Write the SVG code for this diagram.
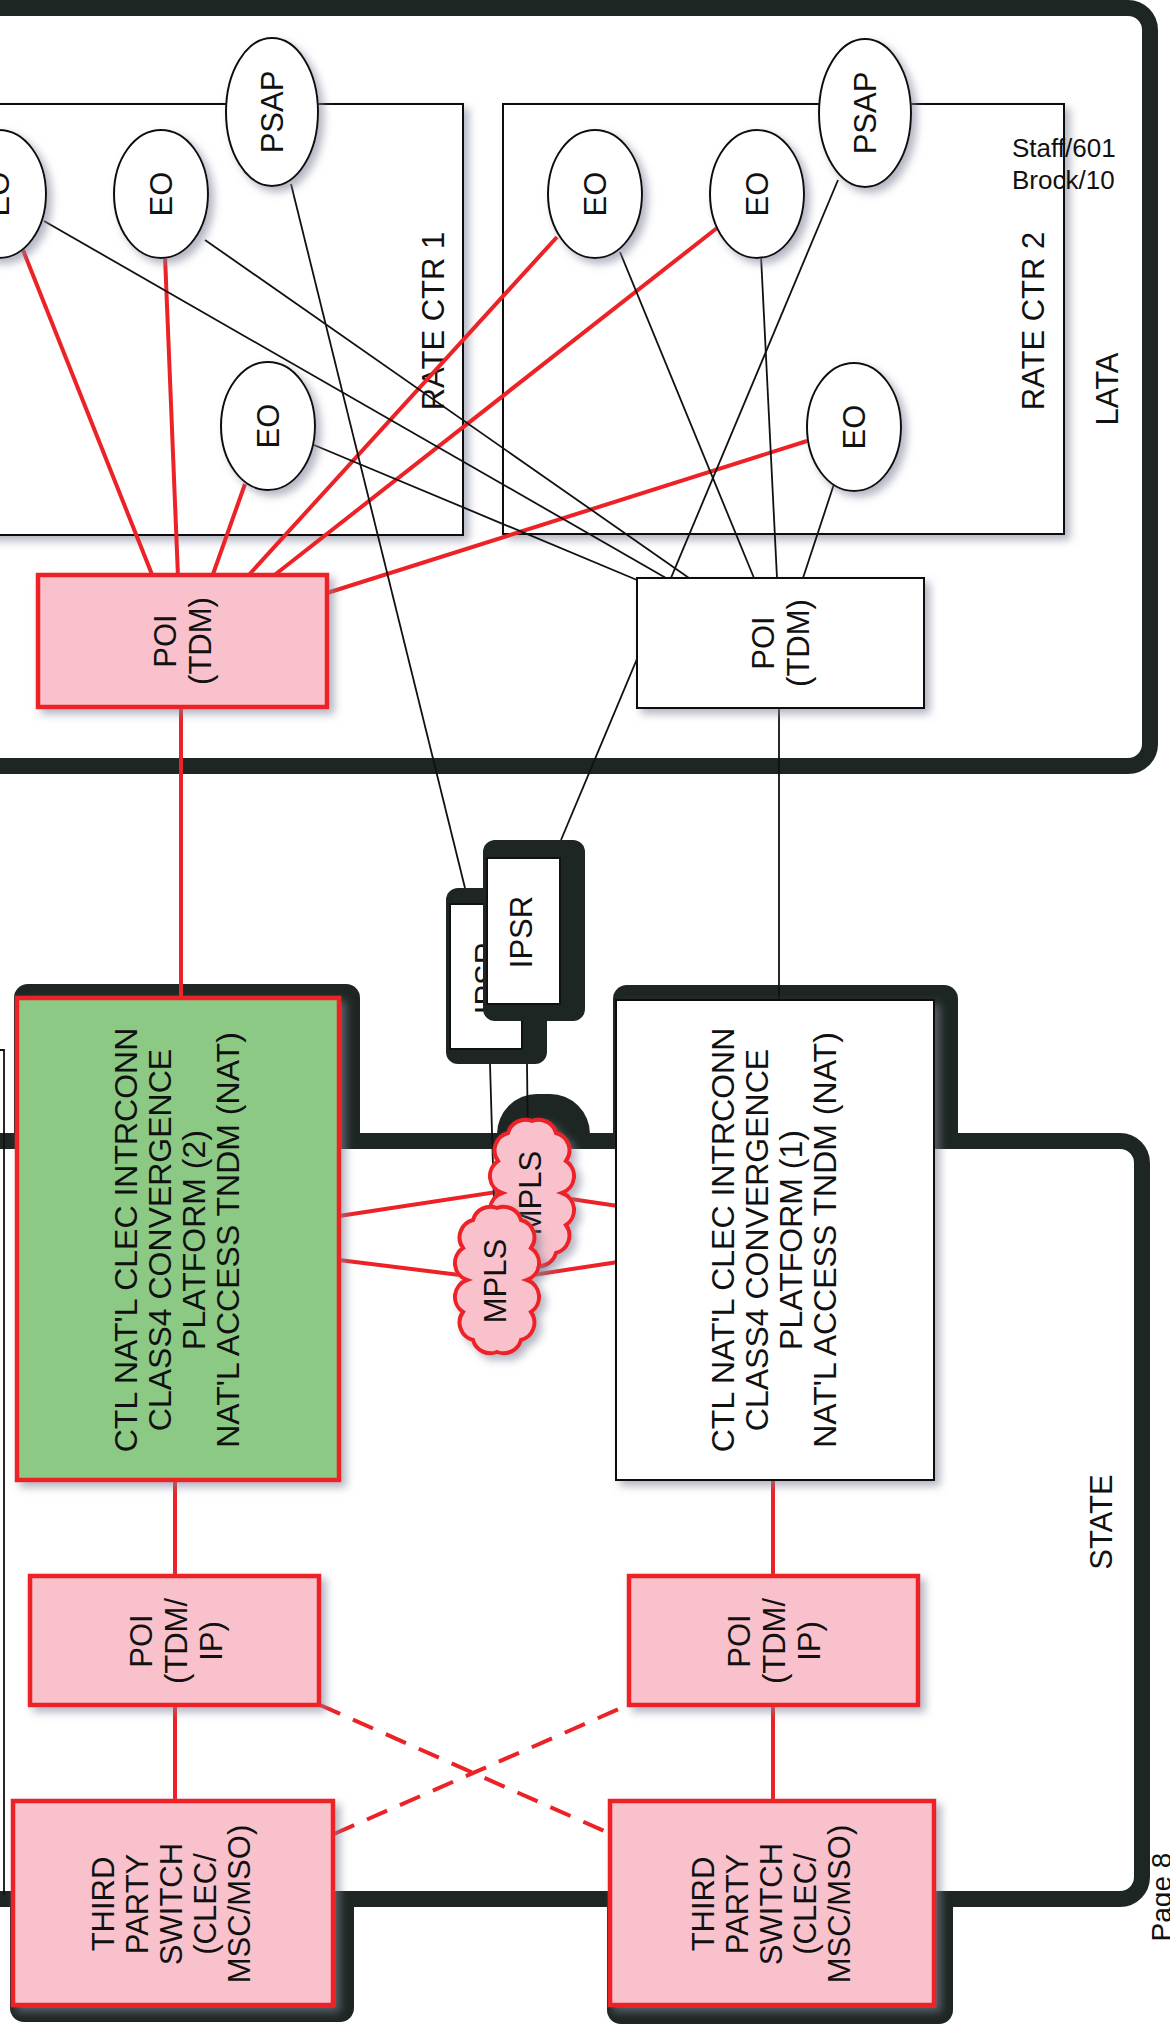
<svg xmlns="http://www.w3.org/2000/svg" width="1170" height="2028" viewBox="0 0 1170 2028">
<defs>
<style>
.t{font-family:"Liberation Sans",Arial,sans-serif;font-size:31px;fill:#111;text-anchor:middle}
.tb{font-size:32px}
.ts{font-family:"Liberation Sans",Arial,sans-serif;font-size:26px;fill:#111}
.frame{fill:#1d2622}
.bord{fill:none;stroke:#1d2622;stroke-width:16}
.rc{fill:#fff;stroke:#111;stroke-width:2}
.ell{fill:#fff;stroke:#111;stroke-width:2}
.pink{fill:#f8c1cc;stroke:#ec2227;stroke-width:4.5}
.green{fill:#8cc985;stroke:#ec2227;stroke-width:4.5}
.white{fill:#fff;stroke:#111;stroke-width:2}
.cloud{fill:#f8c1cc;stroke:#ec2227;stroke-width:4}
.r{fill:none;stroke:#ec2227;stroke-width:4}
.rd{fill:none;stroke:#ec2227;stroke-width:4;stroke-dasharray:22 14}
.k{fill:none;stroke:#111;stroke-width:1.8}
</style>
<filter id="sh" x="-20%" y="-20%" width="150%" height="150%">
<feDropShadow dx="5" dy="5" stdDeviation="4" flood-color="#80849a" flood-opacity="0.6"/>
</filter>
<path id="cloud" d="M 0 -72 A 18 18 0 0 1 24 -60 A 18 18 0 0 1 34 -32 A 18 18 0 0 1 30 0 A 18 18 0 0 1 34 32 A 18 18 0 0 1 24 60 A 18 18 0 0 1 0 72 A 18 18 0 0 1 -24 60 A 18 18 0 0 1 -34 32 A 18 18 0 0 1 -30 0 A 18 18 0 0 1 -34 -32 A 18 18 0 0 1 -24 -60 A 18 18 0 0 1 0 -72 Z"/>
</defs>

<g id="lata">
<rect class="bord" x="-40" y="8" width="1190" height="758" rx="22"/>
<text class="t" transform="translate(1107,389) rotate(-90)" y="11">LATA</text>
</g>

<g id="rate-ctr-1">
<rect class="rc" filter="url(#sh)" x="-30" y="104" width="493" height="431"/>
<text class="t" transform="translate(433,321) rotate(-90)" y="11">RATE CTR 1</text>
</g>
<g id="rate-ctr-2">
<rect class="rc" filter="url(#sh)" x="503" y="104" width="561" height="430"/>
<text class="t" transform="translate(1033,321) rotate(-90)" y="11">RATE CTR 2</text>
</g>

<g id="frames">
<rect class="frame" x="14" y="984" width="346" height="300" rx="14"/>
<rect class="frame" x="613" y="985" width="345" height="300" rx="14"/>
<rect class="frame" x="497" y="1094" width="93" height="150" rx="40"/>
<rect class="frame" x="10" y="1700" width="344" height="322" rx="14"/>
<rect class="frame" x="607" y="1700" width="346" height="324" rx="14"/>
</g>

<g id="state">
<rect x="-40" y="1141" width="1182" height="758" rx="22" fill="#fff" stroke="#1d2622" stroke-width="16"/>
<text class="t" transform="translate(1101,1522) rotate(-90)" y="11">STATE</text>
</g>

<g id="left-edge-box">
<path class="k" d="M -10 1050 H 4 V 1895"/>
</g>

<g id="connectors">
<line class="r" x1="23" y1="250" x2="153" y2="577"/>
<line class="r" x1="165" y1="256" x2="178" y2="577"/>
<line class="r" x1="245" y1="484" x2="212" y2="577"/>
<line class="r" x1="557" y1="237" x2="247" y2="577"/>
<line class="r" x1="717" y1="228" x2="272" y2="577"/>
<line class="r" x1="807" y1="441" x2="327" y2="593"/>
<line class="r" x1="181" y1="707" x2="181" y2="998"/>
<polyline class="r" points="339,1216 510,1190 618,1206"/>
<polyline class="r" points="339,1260 500,1280 618,1262"/>
<line class="r" x1="175" y1="1480" x2="175" y2="1801"/>
<line class="r" x1="773" y1="1480" x2="773" y2="1801"/>
<line class="rd" x1="320" y1="1705" x2="611" y2="1834"/>
<line class="rd" x1="334" y1="1834" x2="628" y2="1705"/>
<line class="k" x1="44" y1="221" x2="666" y2="578"/>
<line class="k" x1="205" y1="240" x2="689" y2="578"/>
<line class="k" x1="314" y1="445" x2="637" y2="580"/>
<line class="k" x1="291" y1="184" x2="465" y2="888"/>
<line class="k" x1="838" y1="180" x2="561" y2="840"/>
<line class="k" x1="620" y1="252" x2="754" y2="578"/>
<line class="k" x1="761" y1="256" x2="777" y2="578"/>
<line class="k" x1="834" y1="484" x2="803" y2="578"/>
<line class="k" x1="779" y1="708" x2="779" y2="1000"/>
<line class="k" x1="490" y1="1064" x2="494" y2="1200"/>
<line class="k" x1="527" y1="1064" x2="528" y2="1150"/>
</g>

<g id="eo-a"><ellipse class="ell" filter="url(#sh)" cx="-1" cy="194" rx="47" ry="64"/><text class="t" transform="translate(-2,194) rotate(-90)" y="11">EO</text></g>
<g id="eo-b"><ellipse class="ell" filter="url(#sh)" cx="161" cy="194" rx="47" ry="64"/><text class="t" transform="translate(161,194) rotate(-90)" y="11">EO</text></g>
<g id="eo-c"><ellipse class="ell" filter="url(#sh)" cx="268" cy="426" rx="47" ry="64"/><text class="t" transform="translate(268,426) rotate(-90)" y="11">EO</text></g>
<g id="psap-1"><ellipse class="ell" filter="url(#sh)" cx="272" cy="112" rx="46" ry="74"/><text class="t" transform="translate(272,112) rotate(-90)" y="11">PSAP</text></g>
<g id="eo-d"><ellipse class="ell" filter="url(#sh)" cx="595" cy="194" rx="47" ry="64"/><text class="t" transform="translate(595,194) rotate(-90)" y="11">EO</text></g>
<g id="eo-e"><ellipse class="ell" filter="url(#sh)" cx="757" cy="194" rx="47" ry="64"/><text class="t" transform="translate(757,194) rotate(-90)" y="11">EO</text></g>
<g id="eo-f"><ellipse class="ell" filter="url(#sh)" cx="854" cy="427" rx="47" ry="64"/><text class="t" transform="translate(854,427) rotate(-90)" y="11">EO</text></g>
<g id="psap-2"><ellipse class="ell" filter="url(#sh)" cx="865" cy="113" rx="46" ry="74"/><text class="t" transform="translate(865,113) rotate(-90)" y="11">PSAP</text></g>

<g id="staff-note">
<text class="ts" x="1012" y="157">Staff/601</text>
<text class="ts" x="1012" y="189">Brock/10</text>
</g>

<g id="poi-tdm-1">
<rect class="pink" filter="url(#sh)" x="38" y="575" width="289" height="132"/>
<text class="t" transform="translate(182,641) rotate(-90)"><tspan x="0" y="-6.5">POI</tspan><tspan x="0" y="28.5">(TDM)</tspan></text>
</g>
<g id="poi-tdm-2">
<rect class="white" filter="url(#sh)" x="637" y="578" width="287" height="130"/>
<text class="t" transform="translate(780,643) rotate(-90)"><tspan x="0" y="-6.5">POI</tspan><tspan x="0" y="28.5">(TDM)</tspan></text>
</g>

<g id="ipsr-back">
<rect class="frame" x="446" y="888" width="101" height="176" rx="12"/>
<rect class="white" x="450" y="904" width="72" height="145"/>
<text class="t" transform="translate(486,978) rotate(-90)" y="11">IPSR</text>
</g>
<g id="ipsr-front">
<rect class="frame" x="483" y="840" width="102" height="181" rx="12"/>
<rect class="white" x="487" y="858" width="73" height="146"/>
<text class="t" transform="translate(521,932) rotate(-90)" y="11">IPSR</text>
</g>

<g id="ctl-2">
<rect class="green" filter="url(#sh)" x="17" y="998" width="322" height="482"/>
<text class="t tb" transform="translate(177,1240) rotate(-90)"><tspan x="0" y="-40">CTL NAT'L CLEC INTRCONN</tspan><tspan x="0" y="-6">CLASS4 CONVERGENCE</tspan><tspan x="0" y="28">PLATFORM (2)</tspan><tspan x="0" y="62">NAT'L ACCESS TNDM (NAT)</tspan></text>
</g>
<g id="ctl-1">
<rect class="white" filter="url(#sh)" x="616" y="1000" width="318" height="480"/>
<text class="t tb" transform="translate(774,1240) rotate(-90)"><tspan x="0" y="-40">CTL NAT'L CLEC INTRCONN</tspan><tspan x="0" y="-6">CLASS4 CONVERGENCE</tspan><tspan x="0" y="28">PLATFORM (1)</tspan><tspan x="0" y="62">NAT'L ACCESS TNDM (NAT)</tspan></text>
</g>

<g id="mpls-2">
<use href="#cloud" class="cloud" filter="url(#sh)" transform="translate(532,1193)"/>
<text class="t" transform="translate(530,1193) rotate(-90)" y="11">MPLS</text>
</g>
<g id="mpls-1">
<use href="#cloud" class="cloud" filter="url(#sh)" transform="translate(497,1280)"/>
<text class="t" transform="translate(495,1281) rotate(-90)" y="11">MPLS</text>
</g>

<g id="poi-tdm-ip-1">
<rect class="pink" filter="url(#sh)" x="30" y="1576" width="289" height="129"/>
<text class="t" transform="translate(176,1641) rotate(-90)"><tspan x="0" y="-24">POI</tspan><tspan x="0" y="11">(TDM/</tspan><tspan x="0" y="46">IP)</tspan></text>
</g>
<g id="poi-tdm-ip-2">
<rect class="pink" filter="url(#sh)" x="629" y="1576" width="289" height="129"/>
<text class="t" transform="translate(774,1641) rotate(-90)"><tspan x="0" y="-24">POI</tspan><tspan x="0" y="11">(TDM/</tspan><tspan x="0" y="46">IP)</tspan></text>
</g>

<g id="third-party-1">
<rect class="pink" filter="url(#sh)" x="13" y="1801" width="320" height="204"/>
<text class="t" transform="translate(171,1904) rotate(-90)"><tspan x="0" y="-57">THIRD</tspan><tspan x="0" y="-23">PARTY</tspan><tspan x="0" y="11">SWITCH</tspan><tspan x="0" y="45">(CLEC/</tspan><tspan x="0" y="79">MSC/MSO)</tspan></text>
</g>
<g id="third-party-2">
<rect class="pink" filter="url(#sh)" x="610" y="1801" width="324" height="204"/>
<text class="t" transform="translate(771,1904) rotate(-90)"><tspan x="0" y="-57">THIRD</tspan><tspan x="0" y="-23">PARTY</tspan><tspan x="0" y="11">SWITCH</tspan><tspan x="0" y="45">(CLEC/</tspan><tspan x="0" y="79">MSC/MSO)</tspan></text>
</g>

<g id="page-label">
<text class="t" style="font-size:28px" transform="translate(1171,1897) rotate(-90)">Page 8</text>
</g>
</svg>
